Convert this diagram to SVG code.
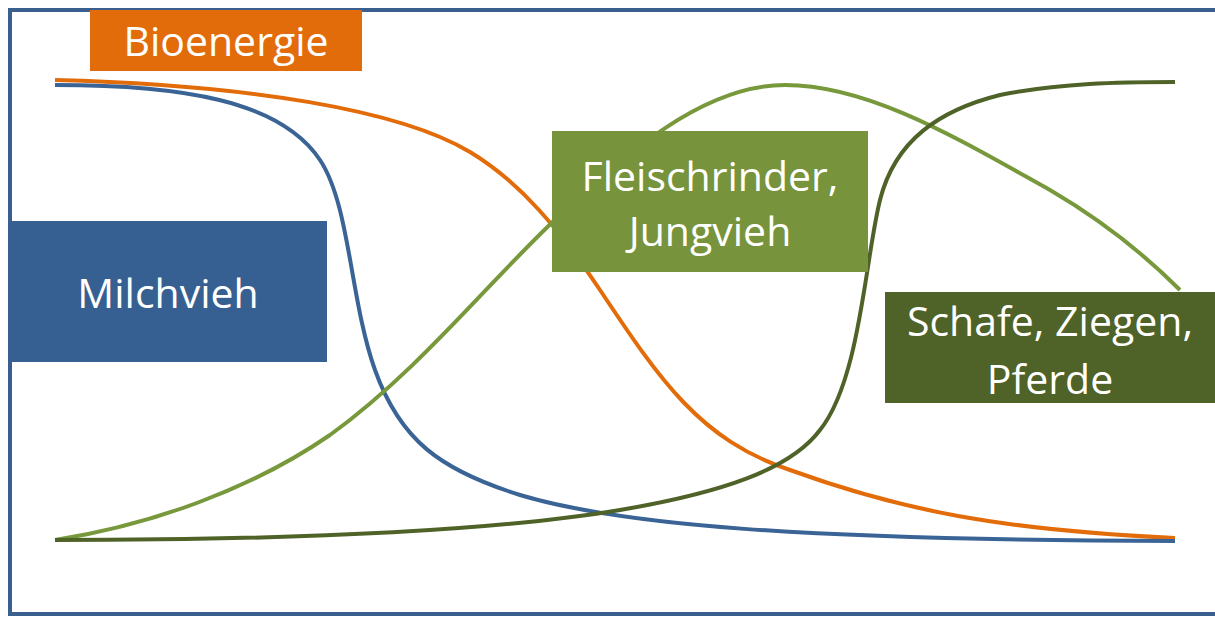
<svg xmlns="http://www.w3.org/2000/svg" width="1215" height="620" viewBox="0 0 1215 620">
<style>
.curve{fill:none;stroke-width:4;stroke-linecap:butt}
.lbl{font-family:"Open Sans","Liberation Sans",sans-serif;font-size:41px;fill:#fff;text-anchor:middle}
</style>
<rect x="0" y="0" width="1215" height="620" fill="#fff"/>
<rect id="frame" x="10" y="10" width="1215" height="604" fill="none" stroke="#3A5F8F" stroke-width="4"/>
<g id="connectors">
<path class="curve" stroke="#E36C0A" d="M55,80 C250,85 400,110 470,152 C520,182 560,230 600,290 C660,380 700,440 790,470 C900,510 1000,530 1175,538"/>
<path class="curve" stroke="#3A6396" d="M55,85 C180,85 280,100 320,160 C350,205 350,300 375,370 C400,440 440,470 520,495 C620,525 800,540 1175,541"/>
<path class="curve" stroke="#77993C" d="M55,540 C150,525 250,490 330,435 C420,370 490,280 560,215 C620,160 700,85 785,85 C870,85 960,140 1050,190 C1110,225 1150,260 1180,290"/>
<path class="curve" stroke="#4F6228" d="M55,540 C300,540 500,530 620,510 C720,493 790,470 820,430 C860,380 865,260 880,200 C895,140 940,110 1000,95 C1060,83 1120,82 1175,82"/>
</g>
<g id="bioenergie">
<rect x="90" y="10" width="272" height="61" fill="#E36C0A"/>
<text class="lbl" x="226" y="56">Bioenergie</text>
</g>
<g id="milchvieh">
<rect x="10" y="221" width="317" height="141" fill="#376092"/>
<text class="lbl" x="168" y="308">Milchvieh</text>
</g>
<g id="fleischrinder">
<rect x="552" y="131" width="316" height="141" fill="#77933C"/>
<text class="lbl" x="710" y="191">Fleischrinder,</text>
<text class="lbl" x="710" y="246">Jungvieh</text>
</g>
<g id="schafe">
<rect x="885" y="292" width="330" height="111" fill="#4F6228"/>
<text class="lbl" x="1050" y="336">Schafe, Ziegen,</text>
<text class="lbl" x="1050" y="394">Pferde</text>
</g>
</svg>
